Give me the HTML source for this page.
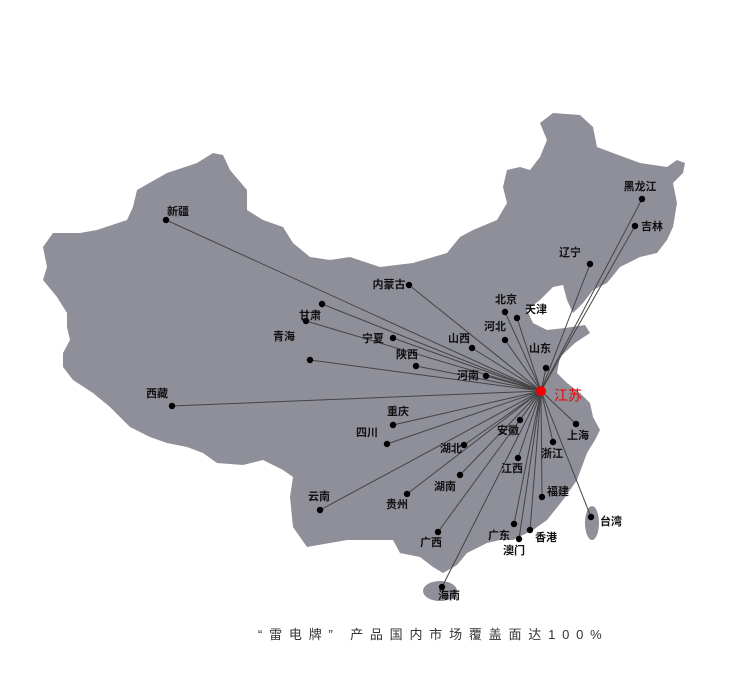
<!DOCTYPE html>
<html><head><meta charset="utf-8"><style>
html,body{margin:0;padding:0;background:#fff;width:737px;height:681px;overflow:hidden}
svg{display:block}
text{font-family:"Liberation Sans","Noto Sans CJK SC",sans-serif;font-size:11px;font-weight:bold;fill:#111;text-anchor:middle;dominant-baseline:middle}
.cap{position:absolute;left:258px;top:624px;font-family:"Liberation Sans","Noto Sans CJK SC",sans-serif;font-size:13px;color:#333;letter-spacing:6.8px;white-space:nowrap}
</style></head><body>
<svg width="737" height="681" viewBox="0 0 737 681">
<path fill="#8e8f99" d="M213,153 L223,155 230,170 247,190 247,210 263,220 283,227 293,243 310,257 330,260 350,257 380,267 413,263 447,253 460,237 473,230 497,220 507,203 503,187 507,170 520,167 530,170 540,157 547,140 540,123 553,113 580,115 593,127 597,147 613,153 640,163 667,167 677,160 685,163 683,173 673,183 677,203 673,227 667,240 657,253 640,257 620,267 607,283 593,290 583,303 573,313 567,300 563,285 553,287 540,300 527,310 533,323 547,330 565,328 585,325 590,333 575,343 560,357 557,373 567,383 580,393 590,403 593,417 600,430 595,440 587,453 577,480 563,500 547,520 533,530 513,540 500,540 487,543 467,553 457,565 443,573 433,567 420,557 400,553 393,540 347,540 307,547 293,527 290,497 293,477 283,470 263,460 243,465 217,463 203,453 187,447 167,443 150,437 130,427 110,407 93,393 73,380 63,367 63,353 70,340 67,327 67,313 57,297 43,280 47,267 43,247 53,233 80,233 97,230 127,220 133,207 137,190 167,173 197,163 Z"/>
<ellipse cx="440" cy="591" rx="17" ry="10" fill="#8e8f99"/>
<ellipse cx="592" cy="523" rx="7" ry="17" fill="#8e8f99"/>
<g stroke="#444" stroke-width="1">
<line x1="541" y1="391" x2="166" y2="220"/><line x1="541" y1="391" x2="642" y2="199"/><line x1="541" y1="391" x2="635" y2="226"/><line x1="541" y1="391" x2="590" y2="264"/><line x1="541" y1="391" x2="409" y2="285"/><line x1="541" y1="391" x2="505" y2="312"/><line x1="541" y1="391" x2="517" y2="318"/><line x1="541" y1="391" x2="505" y2="340"/><line x1="541" y1="391" x2="472" y2="348"/><line x1="541" y1="391" x2="546" y2="368"/><line x1="541" y1="391" x2="322" y2="304"/><line x1="541" y1="391" x2="306" y2="321"/><line x1="541" y1="391" x2="310" y2="360"/><line x1="541" y1="391" x2="393" y2="338"/><line x1="541" y1="391" x2="416" y2="366"/><line x1="541" y1="391" x2="486" y2="376"/><line x1="541" y1="391" x2="172" y2="406"/><line x1="541" y1="391" x2="393" y2="425"/><line x1="541" y1="391" x2="387" y2="444"/><line x1="541" y1="391" x2="520" y2="420"/><line x1="541" y1="391" x2="576" y2="424"/><line x1="541" y1="391" x2="464" y2="445"/><line x1="541" y1="391" x2="553" y2="442"/><line x1="541" y1="391" x2="518" y2="458"/><line x1="541" y1="391" x2="460" y2="475"/><line x1="541" y1="391" x2="407" y2="494"/><line x1="541" y1="391" x2="542" y2="497"/><line x1="541" y1="391" x2="320" y2="510"/><line x1="541" y1="391" x2="591" y2="517"/><line x1="541" y1="391" x2="438" y2="532"/><line x1="541" y1="391" x2="514" y2="524"/><line x1="541" y1="391" x2="530" y2="530"/><line x1="541" y1="391" x2="519" y2="539"/><line x1="541" y1="391" x2="442" y2="587"/>
</g>
<g fill="#000">
<circle cx="166" cy="220" r="3.2"/><circle cx="642" cy="199" r="3.2"/><circle cx="635" cy="226" r="3.2"/><circle cx="590" cy="264" r="3.2"/><circle cx="409" cy="285" r="3.2"/><circle cx="505" cy="312" r="3.2"/><circle cx="517" cy="318" r="3.2"/><circle cx="505" cy="340" r="3.2"/><circle cx="472" cy="348" r="3.2"/><circle cx="546" cy="368" r="3.2"/><circle cx="322" cy="304" r="3.2"/><circle cx="306" cy="321" r="3.2"/><circle cx="310" cy="360" r="3.2"/><circle cx="393" cy="338" r="3.2"/><circle cx="416" cy="366" r="3.2"/><circle cx="486" cy="376" r="3.2"/><circle cx="172" cy="406" r="3.2"/><circle cx="393" cy="425" r="3.2"/><circle cx="387" cy="444" r="3.2"/><circle cx="520" cy="420" r="3.2"/><circle cx="576" cy="424" r="3.2"/><circle cx="464" cy="445" r="3.2"/><circle cx="553" cy="442" r="3.2"/><circle cx="518" cy="458" r="3.2"/><circle cx="460" cy="475" r="3.2"/><circle cx="407" cy="494" r="3.2"/><circle cx="542" cy="497" r="3.2"/><circle cx="320" cy="510" r="3.2"/><circle cx="591" cy="517" r="3.2"/><circle cx="438" cy="532" r="3.2"/><circle cx="514" cy="524" r="3.2"/><circle cx="530" cy="530" r="3.2"/><circle cx="519" cy="539" r="3.2"/><circle cx="442" cy="587" r="3.2"/>
</g>
<circle cx="541" cy="391" r="5" fill="#e00"/>
<text x="178" y="212">新疆</text><text x="640" y="187">黑龙江</text><text x="652" y="227">吉林</text><text x="570" y="253">辽宁</text><text x="389" y="285">内蒙古</text><text x="506" y="300">北京</text><text x="536" y="310">天津</text><text x="495" y="327">河北</text><text x="459" y="339">山西</text><text x="540" y="349">山东</text><text x="310" y="316">甘肃</text><text x="284" y="337">青海</text><text x="373" y="339">宁夏</text><text x="407" y="355">陕西</text><text x="468" y="376">河南</text>
<text x="568" y="397" style="fill:#e00;font-size:14px;font-weight:normal">江苏</text>
<text x="157" y="394">西藏</text><text x="398" y="412">重庆</text><text x="367" y="433">四川</text><text x="508" y="431">安徽</text><text x="578" y="436">上海</text><text x="451" y="449">湖北</text><text x="552" y="454">浙江</text><text x="512" y="469">江西</text><text x="445" y="487">湖南</text><text x="397" y="505">贵州</text><text x="558" y="492">福建</text><text x="319" y="497">云南</text><text x="611" y="522">台湾</text><text x="431" y="543">广西</text><text x="499" y="536">广东</text><text x="546" y="538">香港</text><text x="514" y="551">澳门</text><text x="449" y="596">海南</text>
</svg>
<div class="cap">“雷电牌” 产品国内市场覆盖面达100%</div>
</body></html>
